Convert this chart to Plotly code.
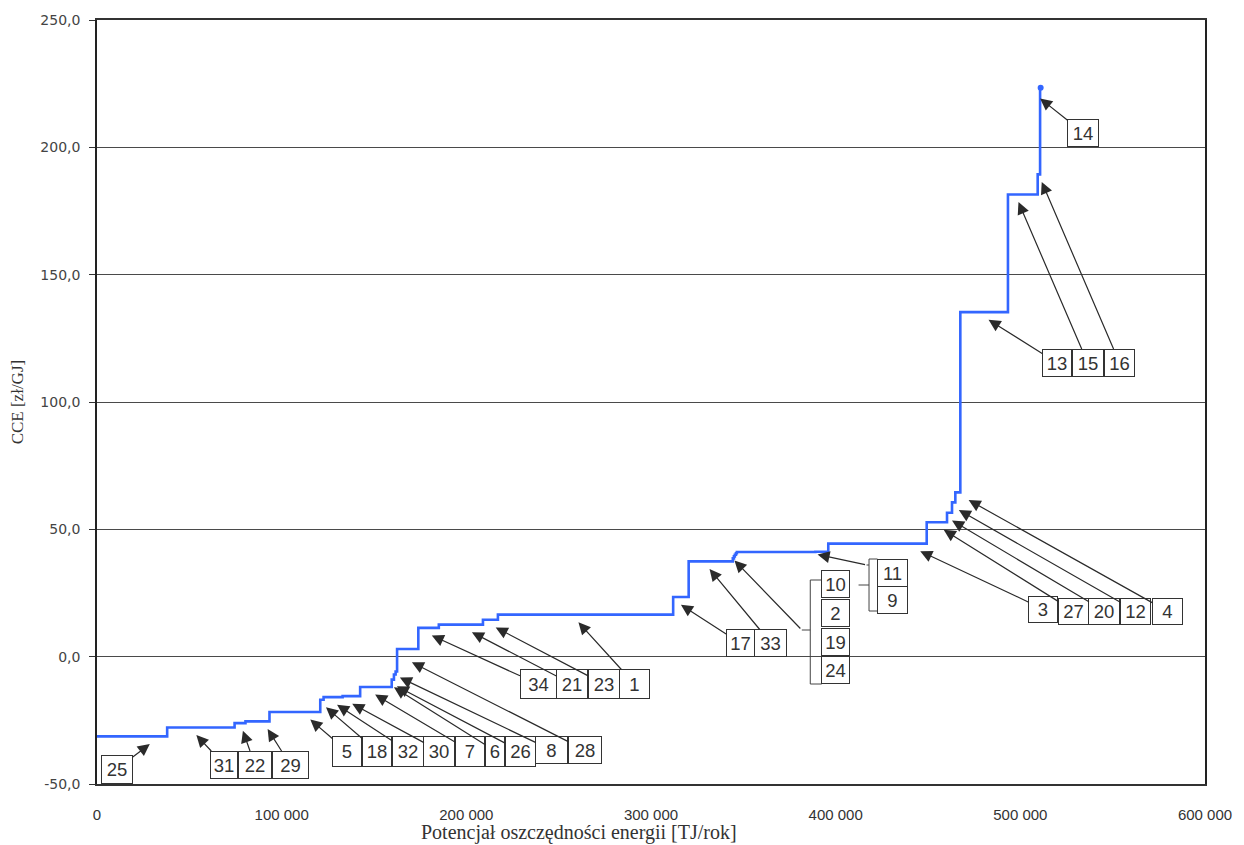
import plotly.graph_objects as go
import numpy as np

# ---------------- DATA ----------------
MEASURE_IDS = [25, 31, 22, 29, 5, 18, 32, 30, 7, 6, 26, 8, 28, 34, 21, 23, 1, 17, 33,
               10, 2, 19, 24, 11, 9, 3, 27, 20, 12, 4, 13, 15, 16, 14]
POTENTIAL_TJ = [38000, 36500, 5900, 13000, 27500, 1800, 10300, 9500, 17100, 1200, 900, 800,
                11500, 11100, 23900, 8100, 94900, 8400, 23900, 600, 500, 600, 500, 42500,
                7000, 53300, 11000, 2700, 1800, 2700, 25800, 16100, 1300, 300]
CCE = [-31.3, -27.8, -26.1, -25.4, -21.7, -16.9, -15.9, -15.5, -11.9, -9.0, -7.0, -5.8,
       3.0, 11.3, 12.6, 14.5, 16.5, 23.4, 37.4, 38.6, 39.4, 40.0, 40.6, 41.1, 41.2, 44.4,
       52.8, 56.5, 60.6, 64.5, 135.3, 181.5, 189.4, 223.4]

X_TICKS = [0, 100000, 200000, 300000, 400000, 500000, 600000]
Y_TICKS = [-50, 0, 50, 100, 150, 200, 250]
Y_TICK_TEXT = ["-50,0", "0,0", "50,0", "100,0", "150,0", "200,0", "250,0"]

X_TITLE = "Potencjał oszczędności energii [TJ/rok]"
Y_TITLE = "CCE [zł/GJ]"

# ---------------- LAYOUT HELPERS ----------------
W, H = 1244, 845
PL, PR, PT, PB = 97, 1210, 20, 784          # plot area in pixels
XR = [0, 600000]
YR = [-50, 250]


def px_x(p):
    return XR[0] + (p - PL) / (PR - PL) * (XR[1] - XR[0])


def px_y(p):
    return YR[0] + (PB - p) / (PB - PT) * (YR[1] - YR[0])


# cumulative step line built from the data
cum = np.concatenate([[0], np.cumsum(POTENTIAL_TJ)])
step_x = list(cum)
step_y = list(CCE) + [CCE[-1]]
cce_by_id = dict(zip(MEASURE_IDS, CCE))

# label layout: id -> (arrow tip x [data], box centre px x, box centre px y, box w, box h)
LABELS = {
    25: (28600, 117, 769, 32, 29),
    31: (53800, 224.5, 764.5, 28, 28),
    22: (79000, 255.5, 764.5, 34, 28),
    29: (92400, 291, 764.5, 37, 28),
    5: (115500, 348, 751, 30, 31),
    18: (124000, 378, 751, 30, 31),
    32: (130000, 409, 751, 32, 31),
    30: (138200, 441, 751, 32, 31),
    7: (150600, 472, 751, 30, 31),
    6: (160800, 497, 751, 20, 31),
    26: (162400, 522, 751, 31, 31),
    8: (164000, 553.5, 750, 33, 28),
    28: (170500, 587, 750, 34, 28),
    34: (181300, 540, 684, 37, 30),
    21: (203000, 574, 684, 32, 30),
    23: (215900, 606, 684, 32, 30),
    1: (260700, 637, 684, 31, 30),
    17: (316200, 743, 643, 29, 28),
    33: (331700, 774, 643, 33, 28),
    3: (445800, 1047.5, 609, 30, 27),
    27: (458500, 1078, 611, 31, 27),
    20: (463000, 1109, 611, 32, 27),
    12: (466700, 1140.5, 611, 31, 27),
    4: (472000, 1172, 611, 31, 27),
    13: (482800, 1061, 362.5, 30, 28),
    15: (499000, 1092, 362.5, 32, 28),
    16: (511600, 1124, 362.5, 31, 28),
    14: (510700, 1087.5, 132.5, 32, 28),
}
TIP_DY = {14: -1.2, 8: 0.6, 28: -2.2, 26: -1.6}

# grouped (bracketed) labels without individual arrows
GROUP_A = {10: (839, 584), 2: (839, 613), 19: (839, 642), 24: (839, 670)}
GROUP_B = {11: (896, 572.5), 9: (896, 600)}

LABEL_FONT = dict(family="Liberation Sans Narrow, Arial Narrow, Liberation Sans, Arial, sans-serif",
                  size=18.5, color="#333333")
ARROW = dict(showarrow=True, arrowhead=2, arrowsize=2.0, arrowwidth=1.2,
             arrowcolor="#2a2a2a", standoff=0)
BOX = dict(bgcolor="white", bordercolor="#333333", borderwidth=1, borderpad=0)

fig = go.Figure()

fig.add_trace(go.Scatter(
    x=step_x, y=step_y, mode="lines", line=dict(color="#3366ff", width=2.6, shape="hv"),
    hoverinfo="skip", showlegend=False))
fig.add_trace(go.Scatter(
    x=[step_x[-1]], y=[step_y[-1]], mode="markers",
    marker=dict(color="#3366ff", size=6), hoverinfo="skip", showlegend=False))

annotations = []
for mid, (tx, bx, by, bw, bh) in LABELS.items():
    ty = cce_by_id[mid] - 3 + TIP_DY.get(mid, 0)
    annotations.append(dict(
        x=tx, y=ty, xref="x", yref="y", ax=px_x(bx), ay=px_y(by), axref="x", ayref="y",
        text=str(mid), font=LABEL_FONT, width=bw - 2, height=bh - 2, align="center",
        valign="middle", **ARROW, **BOX))

for grp in (GROUP_A, GROUP_B):
    for mid, (bx, by) in grp.items():
        annotations.append(dict(
            x=px_x(bx), y=px_y(by), xref="x", yref="y", showarrow=False,
            text=str(mid), font=LABEL_FONT, width=(27 if grp is GROUP_A else 29),
            height=26, align="center", valign="middle", **BOX))

# arrows from the brackets
annotations.append(dict(x=345200, y=37.8, xref="x", yref="y", ax=px_x(805), ay=px_y(630),
                        axref="x", ayref="y", text="", **ARROW))
annotations.append(dict(x=390200, y=40.1, xref="x", yref="y", ax=px_x(870), ay=px_y(565),
                        axref="x", ayref="y", text="", **ARROW))

# axis titles
annotations.append(dict(text=X_TITLE, xref="paper", yref="paper",
                        x=(581 - PL) / (PR - PL), y=(PB - 832) / (PB - PT),
                        showarrow=False, xanchor="center", yanchor="middle",
                        font=dict(family="Liberation Serif, Times New Roman, serif", size=20,
                                  color="#333333")))
annotations.append(dict(text=Y_TITLE, xref="paper", yref="paper",
                        x=(17 - PL) / (PR - PL), y=0.5, textangle=-90,
                        showarrow=False, xanchor="center", yanchor="middle",
                        font=dict(family="Liberation Serif, Times New Roman, serif", size=17,
                                  color="#333333")))

# bracket shapes
LINE = dict(color="#444444", width=1)
shapes = []


def seg(x0, y0, x1, y1):
    shapes.append(dict(type="line", xref="x", yref="y", x0=px_x(x0), y0=px_y(y0),
                       x1=px_x(x1), y1=px_y(y1), line=LINE, layer="above"))


# bracket for 10 / 2 / 19 / 24
seg(813.5, 580, 813.5, 684)
seg(813.5, 580, 825, 580)
seg(813.5, 684, 825, 684)
seg(805, 630, 813.5, 630)
# bracket for 11 / 9
seg(872.5, 559, 872.5, 611)
seg(872.5, 559, 881, 559)
seg(872.5, 611, 881, 611)
seg(862, 585, 872.5, 585)
seg(870, 565, 872.5, 565)

fig.update_layout(
    width=W, height=H,
    margin=dict(l=PL, r=W - PR, t=PT, b=H - PB),
    paper_bgcolor="white", plot_bgcolor="white",
    separators=", ",
    showlegend=False,
    annotations=annotations,
    shapes=shapes,
    xaxis=dict(range=XR, tickvals=X_TICKS, tickformat=",d", showgrid=False,
               zeroline=False, showline=True, linecolor="#333333", linewidth=1.5, mirror=True,
               ticks="", ticklabelstandoff=16,
               tickfont=dict(family="Liberation Sans Narrow, Arial Narrow, Liberation Sans, Arial, sans-serif",
                             size=15, color="#333333")),
    xaxis2=dict(range=XR, overlaying="x", anchor="free", side="bottom",
                position=(0 - YR[0]) / (YR[1] - YR[0]), tickvals=X_TICKS,
                showticklabels=False, ticks="outside", ticklen=5, tickcolor="#333333",
                showline=True, linecolor="#222222", linewidth=1.5, showgrid=False,
                zeroline=False),
    yaxis=dict(range=YR, tickvals=Y_TICKS, ticktext=Y_TICK_TEXT, showgrid=True,
               gridcolor="#4a4a4a", gridwidth=1, zeroline=False, showline=True,
               linecolor="#222222", linewidth=1.5, mirror=True, ticks="outside",
               ticklen=6, tickcolor="#333333", ticklabelstandoff=6,
               tickfont=dict(family="DejaVu Sans, Verdana, sans-serif", size=14,
                             color="#444444")),
)

fig.write_html("out.html", config={"displayModeBar": False},
               post_script="document.body.style.margin='0';")
